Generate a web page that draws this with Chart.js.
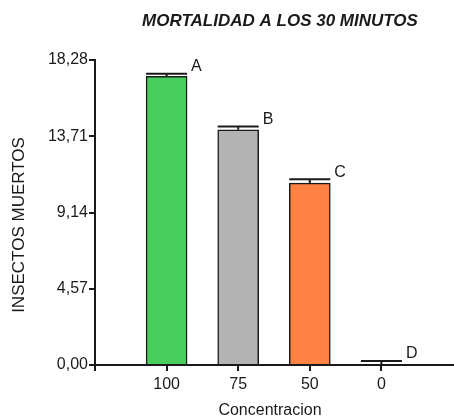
<!DOCTYPE html>
<html>
<head>
<meta charset="utf-8">
<script src="https://cdn.jsdelivr.net/npm/chart.js@4/dist/chart.umd.min.js"></script>
<style>
  html, body { margin: 0; padding: 0; background: #fff; }
  #wrap { width: 454px; height: 420px; }
</style>
</head>
<body>
<div id="wrap"><canvas id="chart" width="454" height="420"></canvas></div>
<script>
const concentraciones = ["100", "75", "50", "0"];
const insectosMuertos = [17.3, 14.1, 10.9, 0];
const errores = [0.15, 0.2, 0.24, 0.24];
const letras = ["A", "B", "C", "D"];
const colores = ["#48CE5C", "#B3B3B3", "#FF8243", "#FFFFFF"];
const yTicks = [0, 4.57, 9.14, 13.71, 18.28];

const tituloGrafico = "MORTALIDAD A LOS 30 MINUTOS";
const tituloX = "Concentracion";
const tituloY = "INSECTOS MUERTOS";

// empty slot at each end so the bars sit one step in from the axis
const labels = [""].concat(concentraciones, [""]);
const values = [null].concat(insectosMuertos, [null]);
const colors = ["#fff"].concat(colores, ["#fff"]);

const FONT = "'Liberation Sans', Arial, sans-serif";
const INK = "#1a1a1a";

const errorBars = {
    id: "errorBars",
    afterDatasetsDraw(chart) {
        const ctx = chart.ctx;
        const y = chart.scales.y;
        const meta = chart.getDatasetMeta(0);
        ctx.save();
        ctx.strokeStyle = INK;
        ctx.fillStyle = INK;
        ctx.lineWidth = 2;
        ctx.font = "16px " + FONT;
        ctx.textBaseline = "alphabetic";
        insectosMuertos.forEach((v, i) => {
            const el = meta.data[i + 1];
            const half = el.width / 2;
            const top = y.getPixelForValue(v + errores[i]);
            ctx.beginPath();
            ctx.moveTo(el.x, y.getPixelForValue(v));
            ctx.lineTo(el.x, top);
            ctx.moveTo(el.x - half, top);
            ctx.lineTo(el.x + half, top);
            ctx.stroke();
            ctx.fillText(letras[i], el.x + half + 4, top - 2.5);
        });
        ctx.restore();
    },
    afterDraw(chart) {
        const ctx = chart.ctx;
        ctx.save();
        ctx.fillStyle = INK;
        ctx.textAlign = "center";
        ctx.textBaseline = "middle";
        ctx.font = "italic bold 17px " + FONT;
        ctx.fillText(tituloGrafico, 280, 21);
        ctx.font = "16px " + FONT;
        ctx.fillText(tituloX, 270, 411);
        ctx.translate(19, 225);
        ctx.rotate(-Math.PI / 2);
        ctx.font = "17px " + FONT;
        ctx.fillText(tituloY, 0, 0);
        ctx.restore();
    }
};

new Chart(document.getElementById("chart"), {
    type: "bar",
    data: {
        labels,
        datasets: [{
            data: values,
            backgroundColor: colors,
            borderColor: INK,
            borderWidth: 1.5,
            barThickness: 41
        }]
    },
    options: {
        responsive: false,
        animation: false,
        layout: { padding: { top: 60, right: 1, left: 0, bottom: 0 } },
        plugins: {
            legend: { display: false },
            tooltip: { enabled: false }
        },
        scales: {
            x: {
                offset: false,
                grid: { offset: false, drawOnChartArea: false, tickLength: 6, color: INK, lineWidth: 2 },
                border: { color: INK, width: 2 },
                ticks: { color: INK, font: { family: FONT, size: 16 }, padding: 4, maxRotation: 0, autoSkip: false },
                afterBuildTicks: s => { s.ticks = s.ticks.filter(t => t.value < labels.length - 1); },
                afterFit: s => { s.height = 55; }
            },
            y: {
                min: 0,
                max: 18.28,
                grid: { drawOnChartArea: false, tickLength: 6, color: INK, lineWidth: 2 },
                border: { color: INK, width: 2 },
                ticks: {
                    color: INK,
                    font: { family: FONT, size: 16 },
                    padding: 1,
                    callback: v => v.toFixed(2).replace(".", ",")
                },
                afterBuildTicks: s => { s.ticks = yTicks.map(v => ({ value: v })); },
                afterFit: s => { s.width = 95; }
            }
        }
    },
    plugins: [errorBars]
});
</script>
</body>
</html>
